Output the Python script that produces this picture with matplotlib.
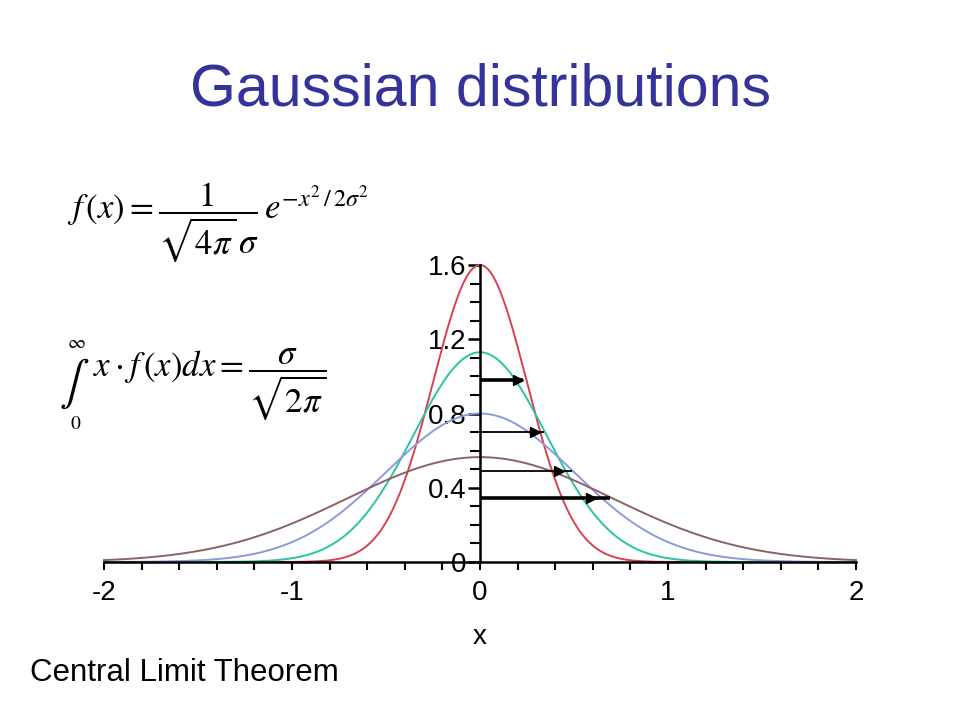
#!/usr/bin/env python3
"""
Gaussian distributions - Central Limit Theorem slide
"""

import numpy as np
import matplotlib
matplotlib.use("Agg")
import matplotlib.pyplot as plt

# peak heights (narrowest to widest)
peaks = [1.60, 1.13, 0.80, 0.565]
curve_colors = ["#d8424f", "#2cc3a0", "#8c9bd8", "#8a6268"]

# horizontal arrows: height, arrow head x, end of line x, line width
arrow_y = [0.98, 0.70, 0.49, 0.345]
arrow_head = [0.20, 0.29, 0.42, 0.59]
arrow_end = [0.23, 0.34, 0.49, 0.69]
arrow_lw = [2.6, 1.3, 1.3, 2.6]

x_ticks = [-2, -1, 0, 1, 2]
y_ticks = [0, 0.4, 0.8, 1.2, 1.6]
y_labels = ["0", "0.4", "0.8", "1.2", "1.6"]

plt.rcParams["font.family"] = ["Liberation Sans", "DejaVu Sans"]
plt.rcParams["mathtext.fontset"] = "stix"
plt.rcParams["axes.unicode_minus"] = False

fig = plt.figure(figsize=(9.6, 7.2), dpi=100)
fig.patch.set_facecolor("white")

fig.text(0.5, 0.875, "Gaussian distributions", ha="center", va="center",
         fontsize=42.5, color="#333399")
fig.text(0.031, 0.065, "Central Limit Theorem", ha="left", va="center",
         fontsize=22.5, color="black")

# formulas
fig.text(0.07, 0.69, r"$f\,(x) = \dfrac{1}{\sqrt{4\pi}\,\sigma}\,e^{-x^2\,/\,2\sigma^2}$",
         ha="left", va="center", fontsize=25)
# integral built from pieces so the limits sit above and below the sign
fig.text(0.077, 0.467, r"$\int$", ha="center", va="center", fontsize=32)
fig.text(0.079, 0.523, r"$\infty$", ha="center", va="center", fontsize=14)
fig.text(0.079, 0.410, r"$0$", ha="center", va="center", fontsize=14)
fig.text(0.097, 0.465, r"$x\cdot f\,(x)dx = \dfrac{\sigma}{\sqrt{2\pi}}$",
         ha="left", va="center", fontsize=25)

ax = fig.add_axes([104 / 960, 1 - 562 / 720, 752 / 960, 297 / 720])

xs = np.linspace(-2, 2, 801)
for peak, color in zip(peaks, curve_colors):
    sigma = 1.0 / (np.sqrt(2 * np.pi) * peak)
    ys = peak * np.exp(-xs ** 2 / (2 * sigma ** 2))
    ax.plot(xs, ys, color=color, lw=1.4, clip_on=False, zorder=2)

for y, head, end, lw in zip(arrow_y, arrow_head, arrow_end, arrow_lw):
    ax.plot([0, end], [y, y], color="black", lw=lw, solid_capstyle="butt", zorder=3)
    ax.plot(head, y, marker=">", color="black", markersize=7, zorder=4)

ax.set_xlim(-2, 2)
ax.set_ylim(0, 1.6)

ax.spines["left"].set_position(("data", 0))
ax.spines["bottom"].set_position(("data", 0))
ax.spines["top"].set_visible(False)
ax.spines["right"].set_visible(False)
ax.spines["left"].set_linewidth(1.8)
ax.spines["bottom"].set_linewidth(1.8)
ax.spines["left"].set_bounds(0, 1.6)

ax.set_xticks(x_ticks)
ax.set_xticks(np.arange(-2, 2.01, 0.2), minor=True)
ax.set_yticks(y_ticks)
ax.set_yticklabels(y_labels)
ax.set_yticks(np.arange(0, 1.61, 0.1), minor=True)

ax.tick_params(axis="x", which="both", direction="out", length=6, width=1.5,
               labelsize=20, pad=7)
ax.tick_params(axis="y", which="major", direction="out", length=9, width=1.8,
               labelsize=20, pad=1)
ax.tick_params(axis="y", which="minor", direction="out", length=7, width=1.5)

ax.set_xlabel("x", fontsize=20)
ax.xaxis.set_label_coords(0.5, -0.21)
ax.patch.set_alpha(0)

fig.savefig("out.png", dpi=100, facecolor="white")
